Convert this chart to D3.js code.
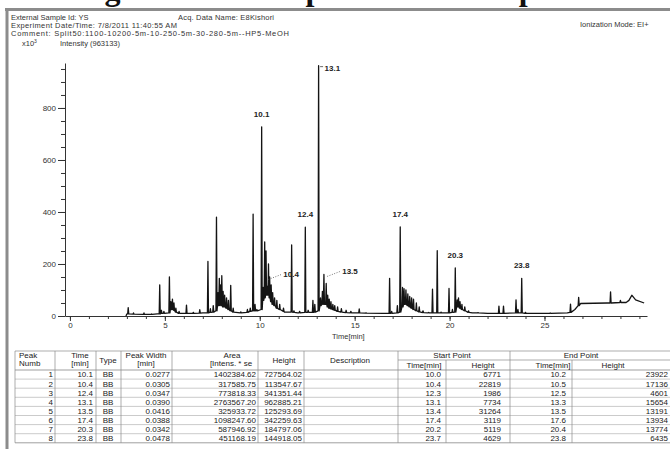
<!DOCTYPE html>
<html>
<head>
<meta charset="utf-8">
<script src="https://cdn.jsdelivr.net/npm/d3@7"></script>
<style>
  html, body { margin: 0; padding: 0; background: #fff; }
  svg { display: block; font-family: Arial, "Liberation Sans", sans-serif; }
</style>
</head>
<body>
<svg id="chart" width="670" height="449"></svg>
<script>
// ---------- data ----------
// integration table (one entry per identified peak)
const peakNum     = [1, 2, 3, 4, 5, 6, 7, 8];
const peakTime    = [10.1, 10.4, 12.4, 13.1, 13.5, 17.4, 20.3, 23.8];
const peakType    = ["BB", "BB", "BB", "BB", "BB", "BB", "BB", "BB"];
const peakWidth   = [0.0277, 0.0305, 0.0347, 0.0390, 0.0416, 0.0388, 0.0342, 0.0478];
const peakArea    = [1402384.62, 317585.75, 773818.33, 2763567.20, 325933.72, 1098247.60, 587946.92, 451168.19];
const peakHeight  = [727564.02, 113547.67, 341351.44, 962885.21, 125293.69, 342259.63, 184797.06, 144918.05];
const startTime   = [10.0, 10.4, 12.3, 13.1, 13.4, 17.4, 20.2, 23.7];
const startHeight = [6771, 22819, 1986, 7734, 31264, 3119, 5119, 4629];
const endTime     = [10.2, 10.5, 12.5, 13.3, 13.5, 17.6, 20.4, 23.8];
const endHeight   = [23922, 17136, 4601, 15654, 13191, 13934, 13774, 6435];
// signal level under each identified peak (x10^3)
const peakBase    = [25, 80, 14, 20, 45, 15, 15, 12];

// other chromatogram peaks: [time (min), apex (x10^3), level at foot (x10^3)]
const minorPeaks = [
  [3.07, 32, 8], [3.35, 12, 7], [3.9, 12, 6], [4.3, 8, 6],
  [4.73, 120, 8], [4.82, 22, 10], [4.95, 18, 10],
  [5.24, 150, 12], [5.32, 55, 25], [5.40, 65, 25], [5.48, 50, 22], [5.58, 30, 15], [5.75, 18, 10],
  [6.14, 42, 10], [6.5, 14, 10], [6.84, 24, 11],
  [7.27, 210, 12], [7.4, 28, 14], [7.55, 40, 15],
  [7.72, 380, 20], [7.80, 90, 40], [7.87, 145, 40], [7.93, 120, 45], [8.0, 155, 40],
  [8.07, 95, 35], [8.15, 80, 35], [8.25, 70, 30], [8.35, 60, 25], [8.47, 118, 20], [8.6, 30, 15],
  [9.0, 16, 12], [9.35, 25, 14], [9.5, 30, 18],
  [9.65, 392, 20], [9.75, 45, 20], [9.85, 25, 20],
  [10.18, 110, 60], [10.26, 285, 70], [10.33, 250, 80], [10.46, 200, 80],
  [10.52, 150, 70], [10.6, 120, 55], [10.68, 90, 45], [10.78, 70, 40], [10.9, 60, 30],
  [11.05, 45, 25], [11.25, 30, 18],
  [11.68, 273, 15], [11.8, 20, 14], [12.1, 18, 12],
  [12.55, 22, 14], [12.8, 60, 14], [12.9, 45, 15],
  [13.2, 70, 40], [13.3, 95, 45], [13.38, 160, 45],
  [13.58, 80, 35], [13.66, 65, 30], [13.75, 55, 28], [13.85, 45, 25], [13.95, 40, 22],
  [14.1, 35, 18], [14.3, 28, 15], [14.55, 22, 13], [14.8, 18, 12],
  [15.24, 27, 12], [15.6, 12, 11],
  [16.84, 145, 10], [16.95, 18, 10], [17.25, 40, 12],
  [17.52, 110, 35], [17.6, 105, 45], [17.7, 100, 45], [17.8, 85, 40], [17.9, 75, 35],
  [18.0, 70, 30], [18.1, 65, 25], [18.25, 50, 20], [18.4, 35, 16], [18.6, 20, 13], [18.9, 14, 12],
  [19.1, 103, 12], [19.35, 251, 12], [19.55, 15, 12],
  [19.97, 106, 12], [20.15, 25, 14],
  [20.4, 62, 35], [20.47, 70, 35], [20.55, 55, 30], [20.65, 45, 25], [20.8, 35, 20], [21.0, 20, 14], [21.5, 13, 12],
  [22.6, 38, 10], [22.84, 38, 10],
  [23.5, 62, 12], [23.6, 25, 12], [24.0, 14, 10],
  [25.3, 12, 10],
  [26.37, 46, 14], [26.8, 72, 40],
  [28.48, 93, 50], [29.0, 60, 52]
];

// background level between peaks: [time (min), level (x10^3)]
const baseline = [
  [2.95, 0], [3.0, 8], [4.0, 6], [4.6, 8], [6.0, 10], [7.0, 12], [9.0, 14],
  [11.3, 15], [12.0, 12], [14.9, 12], [16.5, 10], [19.0, 12], [21.2, 12],
  [22.0, 10], [25.0, 10], [26.2, 12], [26.6, 25], [26.9, 48], [28.3, 50],
  [29.3, 52], [29.45, 60], [29.6, 80], [29.8, 62], [30.25, 50]
];

// axis ticks
const yMajorTicks = [0, 200, 400, 600, 800];
const xMajorTicks = [0, 5, 10, 15, 20, 25];

// ---------- drawing ----------
const svg = d3.select("#chart");
svg.append("rect").attr("width", 670).attr("height", 449).attr("fill", "#fff");

// caption above the frame (only its lowest strokes fall on the page)
const caption = svg.append("text")
  .attr("y", -0.5)
  .attr("font-family", '"Liberation Serif", "Times New Roman", serif')
  .attr("font-weight", "bold")
  .attr("font-size", 32)
  .attr("fill", "#111");
caption.append("tspan").attr("x", 76).text("Fig. 5: GC-MS");
caption.append("tspan").attr("x", 293).text("spectrum of sample");

// report frame
svg.append("line").attr("x1", 5).attr("x2", 670).attr("y1", 9.5).attr("y2", 9.5)
  .attr("stroke", "#8c8c8c").attr("stroke-width", 3);
svg.append("line").attr("x1", 7).attr("x2", 7).attr("y1", 8).attr("y2", 449)
  .attr("stroke", "#8c8c8c").attr("stroke-width", 3);

// run information
const info = svg.append("g").attr("font-size", 7.5).attr("fill", "#333");
info.append("text").attr("x", 11).attr("y", 20).text("External Sample Id: YS");
info.append("text").attr("x", 178).attr("y", 20).attr("textLength", 96).text("Acq. Data Name: E8Kishori");
info.append("text").attr("x", 11).attr("y", 28).attr("textLength", 166).text("Experiment Date/Time: 7/8/2011 11:40:55 AM");
info.append("text").attr("x", 11).attr("y", 36).attr("textLength", 278).text("Comment: Split50:1100-10200-5m-10-250-5m-30-280-5m--HP5-MeOH");
info.append("text").attr("x", 580).attr("y", 27).text("Ionization Mode: EI+");
const yUnit = info.append("text").attr("x", 22).attr("y", 46);
yUnit.append("tspan").text("x10");
yUnit.append("tspan").attr("dy", -3).attr("font-size", 5).text("3");
info.append("text").attr("x", 60).attr("y", 46).text("Intensity (963133)");

// scales
const x = d3.scaleLinear().domain([-0.26, 30.4]).range([65, 647]);
const y = d3.scaleLinear().domain([0, 973]).range([316, 63]);

const axisColor = "#333";
function styleAxis(g) {
  g.selectAll("path, line").attr("stroke", axisColor).attr("stroke-width", 1);
  g.selectAll("text").attr("fill", axisColor).attr("font-size", 8)
    .attr("font-family", 'Arial, "Liberation Sans", sans-serif');
}

// y axis
svg.append("g").attr("transform", "translate(65,0)")
  .call(d3.axisLeft(y).tickValues(d3.range(0, 951, 50)).tickSize(4).tickFormat("").tickSizeOuter(0))
  .call(g => g.select(".domain").remove())
  .call(styleAxis);
svg.append("g").attr("transform", "translate(65,0)")
  .call(d3.axisLeft(y).tickValues(yMajorTicks).tickSize(7).tickSizeOuter(0).tickPadding(2))
  .call(styleAxis);

// x axis
svg.append("g").attr("transform", "translate(0,316)")
  .call(d3.axisBottom(x).tickValues(d3.range(0, 31, 1)).tickSize(3).tickFormat("").tickSizeOuter(0))
  .call(g => g.select(".domain").remove())
  .call(styleAxis);
svg.append("g").attr("transform", "translate(0,316)")
  .call(d3.axisBottom(x).tickValues(xMajorTicks).tickSize(5).tickSizeOuter(0).tickPadding(1))
  .call(styleAxis);

svg.append("text").attr("x", 332).attr("y", 339).attr("font-size", 7.5)
  .attr("fill", "#333").text("Time[min]");

// chromatogram trace: every peak rises from its foot level to its apex
const halfWidth = 0.028;
const identified = peakTime.map((t, i) => [t, peakHeight[i] / 1000, peakBase[i]]);
const allPeaks = minorPeaks.concat(identified);
let pts = baseline.map(d => [d[0], d[1]]);
allPeaks.forEach(p => {
  pts.push([p[0] - halfWidth, p[2]]);
  pts.push([p[0], p[1]]);
  pts.push([p[0] + halfWidth, p[2]]);
});
pts.sort((a, b) => a[0] - b[0]);

svg.append("path")
  .datum(pts)
  .attr("fill", "none")
  .attr("stroke", "#141414")
  .attr("stroke-width", 1.3)
  .attr("stroke-linejoin", "round")
  .attr("d", d3.line().x(d => x(d[0])).y(d => y(d[1])));

// peak labels
const lbl = svg.append("g").attr("font-size", 8).attr("font-weight", "bold").attr("fill", "#222");
peakTime.forEach((t, i) => {
  const px = x(t), py = y(peakHeight[i] / 1000);
  const name = t.toFixed(1);
  if (i === 3) {
    // tallest peak: label beside the apex
    svg.append("line").attr("x1", px + 1.5).attr("x2", px + 4.5).attr("y1", py + 1).attr("y2", py + 1)
      .attr("stroke", "#444").attr("stroke-width", 0.8);
    lbl.append("text").attr("x", px + 6).attr("y", py + 5).text(name);
  } else if (i === 1 || i === 4) {
    // crowded peaks: dotted leader to a label on the right
    svg.append("line").attr("x1", px + 1).attr("y1", py - 7).attr("x2", px + 14).attr("y2", py - 12)
      .attr("stroke", "#555").attr("stroke-width", 0.8).attr("stroke-dasharray", "1,1.5");
    lbl.append("text").attr("x", px + 16).attr("y", py - 9).text(name);
  } else {
    lbl.append("text").attr("x", px).attr("y", py - 10).attr("text-anchor", "middle").text(name);
  }
});

// ---------- results table ----------
const cols = [15, 55, 96, 121, 172, 258, 304, 398, 446, 510, 572];
const valueRight = [53, 93, null, 170, 256, 302, null, 441, 501, 566, 668];
const tTop = 351, tMid = 360, tHead = 370, rowH = 9.1;
const tBottom = tHead + rowH * peakNum.length;
const grid = svg.append("g").attr("stroke", "#8a8a8a").attr("stroke-width", 0.7);
// horizontal rules
grid.append("line").attr("x1", cols[0]).attr("x2", 670).attr("y1", tTop).attr("y2", tTop);
grid.append("line").attr("x1", cols[7]).attr("x2", 670).attr("y1", tMid).attr("y2", tMid);
for (let r = 0; r <= peakNum.length; r++) {
  const yy = tHead + r * rowH;
  grid.append("line").attr("x1", cols[0]).attr("x2", 670).attr("y1", yy).attr("y2", yy)
    .attr("stroke", r === 0 || r === peakNum.length ? "#777" : "#b5b5b5");
}
// vertical rules
cols.forEach((cx, i) => {
  const top = (i === 8 || i === 10) ? tMid : tTop;
  grid.append("line").attr("x1", cx).attr("x2", cx).attr("y1", top).attr("y2", tBottom);
});

const th = svg.append("g").attr("font-size", 8).attr("fill", "#222");
function headText(cx, yy, s, anchor) {
  th.append("text").attr("x", cx).attr("y", yy).attr("text-anchor", anchor || "middle").text(s);
}
headText(19, 358, "Peak", "start");
headText(19, 366, "Numb", "start");
headText(80, 358, "Time");
headText(80, 366, "[min]");
headText(108, 363, "Type");
headText(146, 358, "Peak Width");
headText(146, 366, "[min]");
headText(232, 358, "Area");
headText(231, 366, "[Intens. * se");
headText(284, 363, "Height");
headText(350, 363, "Description");
headText(452, 358, "Start Point");
headText(581, 358, "End Point");
headText(424, 368, "Time[min]");
headText(483, 368, "Height");
headText(553, 368, "Time[min]");
headText(613, 368, "Height");

const tb = svg.append("g").attr("font-size", 8).attr("fill", "#222");
peakNum.forEach((n, r) => {
  const yy = tHead + r * rowH + 7.4;
  const cells = [
    [0, String(n)], [1, peakTime[r].toFixed(1)], [3, peakWidth[r].toFixed(4)],
    [4, peakArea[r].toFixed(2)], [5, peakHeight[r].toFixed(2)],
    [7, startTime[r].toFixed(1)], [8, String(startHeight[r])],
    [9, endTime[r].toFixed(1)], [10, String(endHeight[r])]
  ];
  cells.forEach(([c, s]) => {
    tb.append("text").attr("x", valueRight[c]).attr("y", yy).attr("text-anchor", "end").text(s);
  });
  tb.append("text").attr("x", 108).attr("y", yy).attr("text-anchor", "middle").text(peakType[r]);
});
</script>
</body>
</html>
